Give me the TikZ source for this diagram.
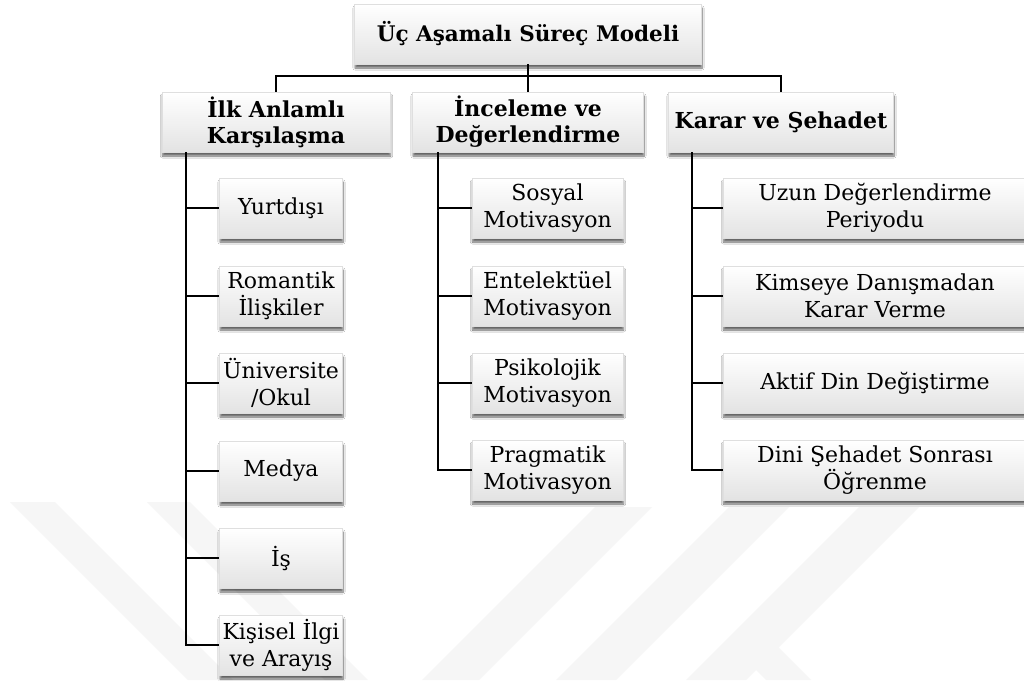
\documentclass[tikz,border=0pt]{standalone}
\usepackage{fontspec}
\setmainfont{DejaVu Serif}
\usetikzlibrary{shadows.blur}
\begin{document}
\begin{tikzpicture}[x=1pt,y=-1pt,
  boxbase/.style={draw=gray!25, line width=0.4pt, top color=white, bottom color=gray!22,
    blur shadow={shadow xshift=0.5pt, shadow yshift=-4pt, shadow blur steps=8, shadow opacity=60},
    align=center, inner sep=0pt, minimum height=60pt},
  headbox/.style={boxbase, font=\fontsize{22}{26}\selectfont\bfseries},
  titlebox/.style={boxbase, font=\fontsize{21.5}{26}\selectfont\bfseries},
  leafbox/.style={boxbase, font=\fontsize{22}{27}\selectfont},
  conn/.style={line width=2.5pt, black, line join=miter},
  wm/.style={fill=gray!7, draw=none}
]
\useasboundingbox (0,0) rectangle (1024,680);
\clip (0,0) rectangle (1024,680);
\fill[white] (0,0) rectangle (1024,680);
% watermark
\fill[wm] (10,502) -- (55,502) -- (233,680) -- (188,680) -- cycle;
\fill[wm] (147,502) -- (190,502) -- (368,680) -- (325,680) -- cycle;
\fill[wm] (595,507) -- (652,507) -- (479,680) -- (422,680) -- cycle;
\fill[wm] (729,507) -- (789,507) -- (616,680) -- (556,680) -- cycle;
\fill[wm] (859,507) -- (919,507) -- (746,680) -- (686,680) -- cycle;
\fill[wm] (726,640) -- (771,640) -- (811,680) -- (766,680) -- cycle;

% title
\node[titlebox, minimum width=347pt] (top) at (528,34) {Üç Aşamalı Süreç Modeli};
% level 1
\node[headbox, minimum width=228pt] (a) at (276,122) {İlk Anlamlı\\Karşılaşma};
\node[headbox, minimum width=231pt] (b) at (528,122) {İnceleme ve\\Değerlendirme};
\node[headbox, minimum width=225pt] (c) at (781,122) {Karar ve Şehadet};
% left column
\node[leafbox, minimum width=123pt] (a1) at (281,208) {Yurtdışı};
\node[leafbox, minimum width=123pt] (a2) at (281,296) {Romantik\\İlişkiler};
\node[leafbox, minimum width=123pt] (a3) at (281,383) {Üniversite\\/Okul};
\node[leafbox, minimum width=123pt] (a4) at (281,471) {Medya};
\node[leafbox, minimum width=123pt] (a5) at (281,558) {İş};
\node[leafbox, minimum width=123pt] (a6) at (281,645) {Kişisel İlgi\\ve Arayış};
% middle column
\node[leafbox, minimum width=151pt] (b1) at (547.5,208) {Sosyal\\Motivasyon};
\node[leafbox, minimum width=151pt] (b2) at (547.5,296) {Entelektüel\\Motivasyon};
\node[leafbox, minimum width=151pt] (b3) at (547.5,383) {Psikolojik\\Motivasyon};
\node[leafbox, minimum width=151pt] (b4) at (547.5,470) {Pragmatik\\Motivasyon};
% right column
\node[leafbox, minimum width=304pt] (c1) at (875,208) {Uzun Değerlendirme\\Periyodu};
\node[leafbox, minimum width=304pt] (c2) at (875,296) {Kimseye Danışmadan\\Karar Verme};
\node[leafbox, minimum width=304pt] (c3) at (875,383) {Aktif Din Değiştirme};
\node[leafbox, minimum width=304pt] (c4) at (875,470) {Dini Şehadet Sonrası\\Öğrenme};

% connectors
\coordinate (bus) at (528,76);
\draw[conn] (top.south) -- (bus);
\draw[conn] (a.north) |- (bus) -| (c.north);
\draw[conn] (bus) -- (b.north);

\coordinate (ta) at (186,152);
\coordinate (tb) at (438,152);
\coordinate (tc) at (692,152);
\draw[conn] (ta) |- (a6.west);
\foreach \n in {a1,a2,a3,a4,a5}{\draw[conn] (ta |- \n.west) -- (\n.west);}
\draw[conn] (tb) |- (b4.west);
\foreach \n in {b1,b2,b3}{\draw[conn] (tb |- \n.west) -- (\n.west);}
\draw[conn] (tc) |- (c4.west);
\foreach \n in {c1,c2,c3}{\draw[conn] (tc |- \n.west) -- (\n.west);}
\end{tikzpicture}
\end{document}
